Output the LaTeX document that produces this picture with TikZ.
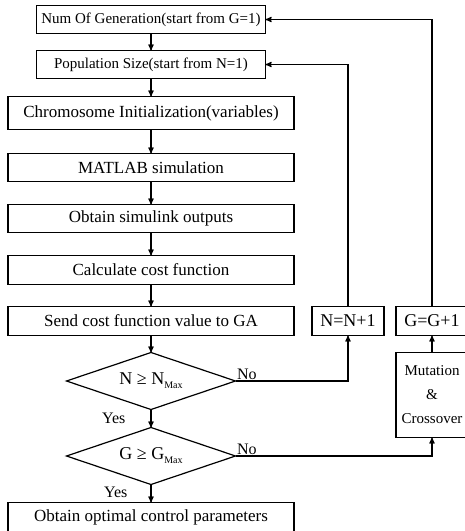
\documentclass[tikz,border=0pt]{standalone}
\usepackage{fontspec}
\setmainfont{Liberation Serif}
\usetikzlibrary{positioning, shapes.geometric, arrows}

\begin{document}
\begin{tikzpicture}[x=1pt, y=1pt, >=stealth', line width=1.2pt,
    block/.style={draw, rectangle, minimum width=286pt, minimum height=29pt, inner sep=1pt, outer sep=0pt, font=\fontsize{17}{20}\selectfont},
    topblock/.style={block, minimum width=229pt, minimum height=28pt, font=\fontsize{15}{17}\selectfont},
    decision/.style={draw, diamond, aspect=3, minimum width=169pt, minimum height=57pt, inner sep=0pt, outer sep=0pt, font=\fontsize{18}{20}\selectfont},
    counter/.style={draw, rectangle, minimum width=72pt, minimum height=29pt, inner sep=1pt, outer sep=0pt, font=\fontsize{18}{21}\selectfont},
    lbl/.style={font=\fontsize{16}{18}\selectfont, inner sep=1pt}]
    \useasboundingbox (0,0) rectangle (465,-531);

    \node[topblock] (gen) at (151,-19.5) {Num Of Generation(start from G=1)};
    \node[topblock, below=17pt of gen] (pop) {Population Size(start from N=1)};
    \node[block, minimum height=33pt, below=18pt of pop] (chrom) {Chromosome Initialization(variables)};
    \node[block, minimum height=28pt, below=24pt of chrom] (matlab) {MATLAB simulation};
    \node[block, minimum height=28pt, below=23pt of matlab] (outputs) {Obtain simulink outputs};
    \node[block, below=23pt of outputs] (cost) {Calculate cost function};
    \node[block, below=22pt of cost] (send) {Send cost function value to GA};
    \node[decision, below=17pt of send] (nmax) {N ≥ N{\fontsize{10}{10}\selectfont\raisebox{-4pt}{Max}}};
    \node[decision, below=18pt of nmax] (gmax) {G ≥ G{\fontsize{10}{10}\selectfont\raisebox{-4pt}{Max}}};
    \node[block, below=18pt of gmax] (final) {Obtain optimal control parameters};

    \node[counter, right=18pt of send] (ninc) {N=N+1};
    \node[counter, right=12pt of ninc] (ginc) {G=G+1};
    \node[counter, minimum height=85pt, align=center, font=\fontsize{15}{24}\selectfont, below=17pt of ginc] (mut) {Mutation\\ \&\\ Crossover};

    % main chain
    \draw[->] (gen) -- (pop);
    \draw[->] (pop) -- (chrom);
    \draw[->] (chrom) -- (matlab);
    \draw[->] (matlab) -- (outputs);
    \draw[->] (outputs) -- (cost);
    \draw[->] (cost) -- (send);
    \draw[->] (send) -- (nmax);
    \draw[->] (nmax) -- node[lbl, left=24pt] {Yes} (gmax);
    \draw[->] (gmax) -- node[lbl, left=22pt, pos=0.45] {Yes} (final);

    % loops back
    \draw[->] (nmax.east) node[lbl, anchor=south west] {No} -| (ninc.south);
    \draw[->] (gmax.east) node[lbl, anchor=south west] {No} -| (mut.south);
    \draw[->] (mut) -- (ginc);
    \draw[->] (ninc.north) |- (pop.east);
    \draw[->] (ginc.north) |- (gen.east);
\end{tikzpicture}
\end{document}
